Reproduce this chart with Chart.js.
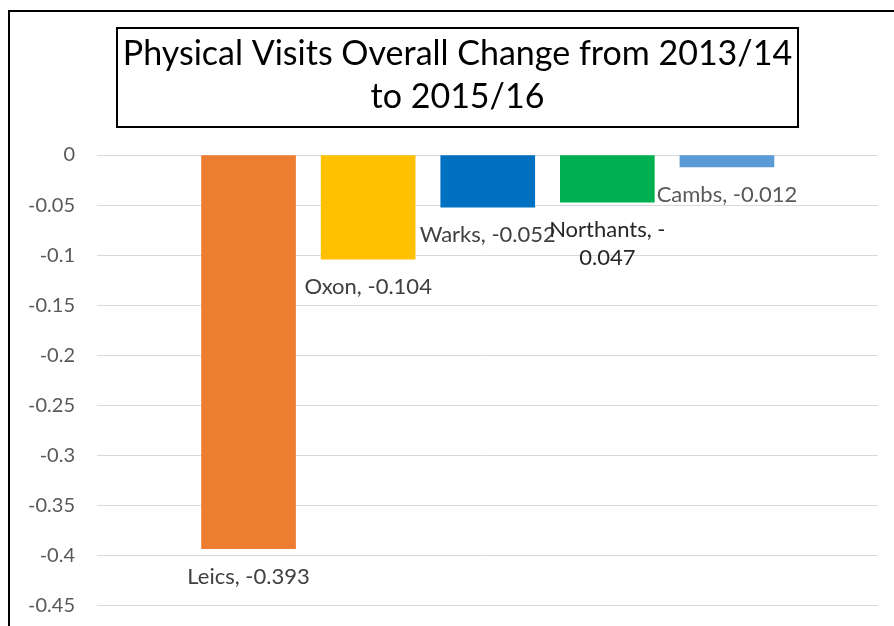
<!DOCTYPE html>
<html>
<head>
<meta charset="utf-8">
<script src="https://cdn.jsdelivr.net/npm/chart.js@4/dist/chart.umd.min.js"></script>
<style>
  html, body { margin: 0; padding: 0; background: #fff; overflow: hidden; }
  #frame { position: absolute; left: 8px; top: 10px; width: 1000px; height: 1000px; border: 2px solid #000; }
  #wrap { position: absolute; left: 0; top: 0; width: 894px; height: 690px; }
</style>
</head>
<body>
<div id="frame"></div>
<div id="wrap"><canvas id="chart"></canvas></div>
<script>
const titleLines = ['Physical Visits Overall Change from 2013/14', 'to 2015/16'];
const categories = ['Leics', 'Oxon', 'Warks', 'Northants', 'Cambs'];
const values = [-0.393, -0.104, -0.052, -0.047, -0.012];
const barColors = ['#ED7D31', '#FFC000', '#0070C0', '#00B050', '#5B9BD5'];
const labelColors = ['#404040', '#404040', '#404040', '#262626', '#595959'];

const FONT = 'Lato, "Open Sans", sans-serif';

// split "Name, -0.047" after the minus sign when it is too wide (like Excel does)
function wrapLabel(ctx, text, maxW) {
    if (ctx.measureText(text).width <= maxW) return [text];
    const idx = text.lastIndexOf('-');
    if (idx < 0) return [text];
    return [text.slice(0, idx + 1), text.slice(idx + 1)];
}

const titleBoxPlugin = {
    id: 'titleBox',
    afterDraw: (chart) => {
        const { ctx } = chart;
        const cx = 457.5;
        ctx.save();
        ctx.font = '34px ' + FONT;
        ctx.fillStyle = '#000';
        ctx.textAlign = 'center';
        ctx.textBaseline = 'middle';
        ctx.fillText(titleLines[0], cx, 54);
        ctx.fillText(titleLines[1], cx, 97);
        ctx.strokeStyle = '#000';
        ctx.lineWidth = 2;
        ctx.strokeRect(117, 28, 681, 99);
        ctx.restore();
    }
};

const barLabelPlugin = {
    id: 'barLabels',
    afterDatasetsDraw: (chart) => {
        const { ctx } = chart;
        const meta = chart.getDatasetMeta(0);
        ctx.save();
        ctx.font = '22px ' + FONT;
        ctx.textAlign = 'center';
        ctx.textBaseline = 'middle';
        meta.data.forEach((bar, i) => {
            const lines = wrapLabel(ctx, categories[i] + ', ' + values[i], 150);
            ctx.fillStyle = labelColors[i];
            lines.forEach((ln, k) => ctx.fillText(ln, bar.x, bar.y + 28 + k * 28));
        });
        ctx.restore();
    }
};

new Chart(document.getElementById('chart').getContext('2d'), {
    type: 'bar',
    data: {
        datasets: [{
            data: categories.map((c, i) => ({ x: i + 1, y: values[i] })),
            backgroundColor: barColors,
            borderWidth: 0,
            barThickness: 94
        }]
    },
    options: {
        responsive: true,
        maintainAspectRatio: false,
        animation: false,
        layout: { padding: { top: 155, right: 16, bottom: 16, left: 0 } },
        plugins: {
            legend: { display: false },
            title: { display: false },
            tooltip: { enabled: false }
        },
        scales: {
            x: {
                type: 'linear',
                offset: false,
                min: -0.267,
                max: 6.263,
                display: false
            },
            y: {
                min: -0.5,
                max: 0,
                border: { display: false },
                grid: { color: '#d9d9d9', lineWidth: 1, drawTicks: false },
                ticks: {
                    stepSize: 0.05,
                    color: '#595959',
                    font: { family: FONT, size: 20 },
                    padding: 22,
                    callback: (v) => String(Number(v.toFixed(2)))
                },
                afterFit: (scale) => { scale.width = 97; }
            }
        }
    },
    plugins: [titleBoxPlugin, barLabelPlugin]
});
</script>
</body>
</html>
